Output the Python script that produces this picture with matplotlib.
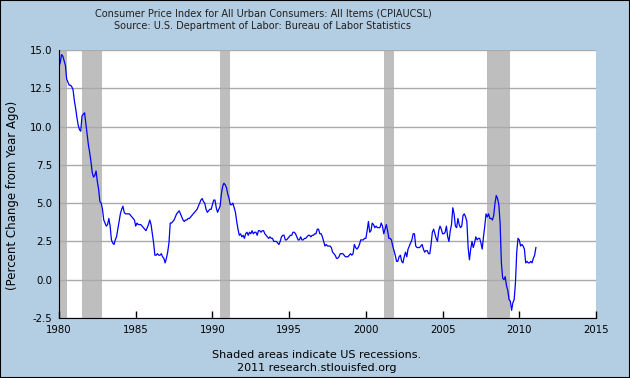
import numpy as np
import matplotlib
matplotlib.use("Agg")
import matplotlib.pyplot as plt
from matplotlib.patches import Rectangle

# CPI, percent change from a year ago, monthly Jan 1980 .. Feb 2011
cpi_1980s = [
    13.9, 14.2, 14.7, 14.6, 14.3, 14.0, 13.1, 12.9, 12.7, 12.7, 12.6, 12.4,  # 1980
    11.7, 11.2, 10.6, 10.1, 9.8, 9.7, 10.7, 10.8, 10.9, 10.2, 9.5, 8.8,      # 1981
    8.3, 7.7, 7.0, 6.7, 6.8, 7.1, 6.4, 5.9, 5.1, 5.0, 4.6, 3.9,              # 1982
    3.7, 3.5, 3.6, 4.0, 3.5, 2.6, 2.4, 2.3, 2.6, 2.8, 3.3, 3.8,              # 1983
    4.3, 4.6, 4.8, 4.4, 4.3, 4.3, 4.3, 4.3, 4.2, 4.1, 4.0, 3.9,              # 1984
    3.5, 3.7, 3.6, 3.6, 3.6, 3.5, 3.4, 3.3, 3.2, 3.4, 3.6, 3.9,              # 1985
    3.6, 3.0, 2.4, 1.6, 1.6, 1.7, 1.6, 1.6, 1.7, 1.5, 1.4, 1.1,              # 1986
    1.4, 1.8, 2.4, 3.7, 3.7, 3.8, 3.9, 4.1, 4.3, 4.4, 4.5, 4.3,              # 1987
    4.1, 3.9, 3.8, 3.9, 3.9, 4.0, 4.0, 4.1, 4.2, 4.3, 4.4, 4.5,              # 1988
    4.6, 4.8, 5.0, 5.2, 5.3, 5.1, 5.0, 4.6, 4.4, 4.5, 4.6, 4.6,              # 1989
]
cpi_1990s = [
    4.9, 5.2, 5.2, 4.7, 4.4, 4.6, 4.8, 5.6, 6.1, 6.3, 6.2, 6.0,              # 1990
    5.6, 5.3, 4.9, 4.9, 5.0, 4.7, 4.4, 3.8, 3.3, 2.9, 3.0, 2.8,              # 1991
    2.9, 2.7, 3.0, 3.1, 2.9, 3.1, 3.0, 3.2, 3.0, 3.1, 3.1, 2.9,              # 1992
    3.2, 3.2, 3.1, 3.2, 3.2, 3.0, 2.9, 2.8, 2.7, 2.8, 2.7, 2.7,              # 1993
    2.5, 2.5, 2.5, 2.4, 2.3, 2.5, 2.8, 2.9, 2.9, 2.6, 2.6, 2.7,              # 1994
    2.8, 2.9, 2.9, 3.1, 3.1, 3.0, 2.8, 2.6, 2.6, 2.8, 2.6, 2.6,              # 1995
    2.7, 2.7, 2.8, 2.9, 2.9, 2.8, 2.9, 2.9, 3.0, 3.0, 3.3, 3.3,              # 1996
    3.0, 3.0, 2.8, 2.5, 2.2, 2.3, 2.2, 2.2, 2.2, 2.1, 1.8, 1.7,              # 1997
    1.6, 1.4, 1.4, 1.5, 1.7, 1.7, 1.7, 1.6, 1.5, 1.5, 1.5, 1.6,              # 1998
    1.7, 1.6, 1.7, 2.3, 2.1, 2.0, 2.1, 2.3, 2.6, 2.6, 2.6, 2.7,              # 1999
]
cpi_2000s = [
    2.7, 3.2, 3.8, 3.1, 3.2, 3.7, 3.6, 3.4, 3.5, 3.4, 3.4, 3.4,              # 2000
    3.7, 3.5, 3.0, 3.3, 3.6, 3.2, 2.7, 2.7, 2.6, 2.2, 1.9, 1.6,              # 2001
    1.2, 1.2, 1.5, 1.6, 1.2, 1.1, 1.5, 1.8, 1.5, 2.0, 2.2, 2.4,              # 2002
    2.6, 3.0, 3.0, 2.2, 2.1, 2.1, 2.1, 2.2, 2.3, 2.0, 1.8, 1.9,              # 2003
    1.9, 1.7, 1.7, 2.3, 3.1, 3.3, 3.0, 2.7, 2.5, 3.2, 3.5, 3.3,              # 2004
    3.0, 3.0, 3.1, 3.5, 2.8, 2.5, 3.2, 3.6, 4.7, 4.3, 3.5, 3.4,              # 2005
    4.0, 3.6, 3.4, 3.5, 4.2, 4.3, 4.1, 3.8, 2.1, 1.3, 2.0, 2.5,              # 2006
    2.1, 2.4, 2.8, 2.6, 2.7, 2.7, 2.4, 2.0, 2.8, 3.5, 4.3, 4.1,              # 2007
    4.3, 4.0, 4.0, 3.9, 4.2, 5.0, 5.5, 5.3, 4.9, 3.7, 1.1, 0.1,              # 2008
    0.0, 0.2, -0.4, -0.7, -1.3, -1.4, -2.0, -1.5, -1.3, -0.2, 1.8, 2.7,      # 2009
]
cpi_2010s = [
    2.6, 2.2, 2.3, 2.2, 2.0, 1.1, 1.2, 1.1, 1.1, 1.2, 1.1, 1.4,              # 2010
    1.6, 2.1,                                                                # 2011
]
start_year = 1980

# NBER recessions (decimal years)
recessions = [(1980.0, 1980.5), (1981.5, 1982.83), (1990.5, 1991.17),
              (2001.17, 2001.83), (2007.92, 2009.42)]

values = np.array(cpi_1980s + cpi_1990s + cpi_2000s + cpi_2010s)
years = start_year + np.arange(len(values)) / 12.0

bg = "#b3cde3"
fig = plt.figure(figsize=(6.3, 3.78), dpi=100, facecolor=bg)
ax = fig.add_axes([59 / 630, 60 / 378, 537 / 630, 268 / 378])
ax.set_facecolor("white")

for a, b in recessions:
    ax.axvspan(a, b, color="#bebebe", lw=0, zorder=1)

ax.plot(years, values, color="#0000ff", lw=0.9, zorder=3)

ax.set_xlim(1980, 2015)
ax.set_ylim(-2.5, 15.0)
ax.set_xticks(np.arange(1980, 2016, 5))
ax.set_yticks(np.arange(-2.5, 15.1, 2.5))
ax.set_yticklabels([f"{v:.1f}" for v in np.arange(-2.5, 15.1, 2.5)])
ax.yaxis.grid(True, color="#aaaaaa", lw=1.0, zorder=2)
ax.set_axisbelow(False)

for s in ["top", "right"]:
    ax.spines[s].set_visible(False)
ax.spines["left"].set_zorder(4)
ax.spines["bottom"].set_zorder(4)
ax.tick_params(axis="x", direction="in", length=5, width=1, labelsize=7.3,
               colors="black", pad=5)
ax.tick_params(axis="y", length=0, labelsize=7.3, colors="black", pad=5)

fig.text(13 / 630, 1 - 195 / 378, "(Percent Change from Year Ago)",
         rotation=90, ha="center", va="center", fontsize=8.5)

fig.text(263 / 630, 1 - 14 / 378,
         "Consumer Price Index for All Urban Consumers: All Items (CPIAUCSL)",
         ha="center", va="center", fontsize=7.0, color="#202020")
fig.text(263 / 630, 1 - 26 / 378,
         "Source: U.S. Department of Labor: Bureau of Labor Statistics",
         ha="center", va="center", fontsize=7.0, color="#202020")

fig.text(317 / 630, 1 - 355 / 378, "Shaded areas indicate US recessions.",
         ha="center", va="center", fontsize=8)
fig.text(317 / 630, 1 - 368 / 378, "2011 research.stlouisfed.org",
         ha="center", va="center", fontsize=8)

fig.patches.append(Rectangle((0, 0), 1, 1, transform=fig.transFigure,
                             fill=False, edgecolor="black", lw=1.5))

fig.savefig("out.png", dpi=100, facecolor=bg)
